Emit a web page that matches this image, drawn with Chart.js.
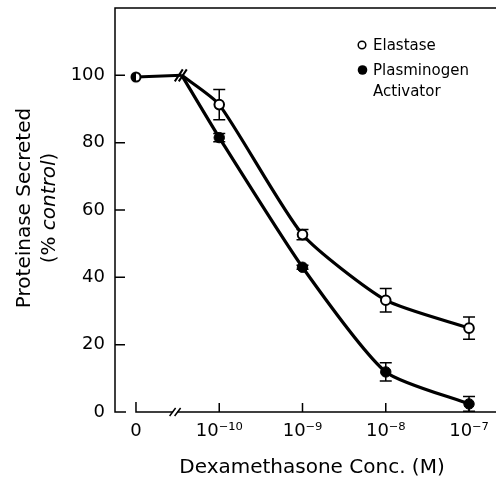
<!DOCTYPE html>
<html>
<head>
<meta charset="utf-8">
<script src="https://cdn.jsdelivr.net/npm/chart.js@4.4.0/dist/chart.umd.min.js"></script>
<style>
html, body { margin: 0; padding: 0; background: #fff; }
#wrap { width: 496px; height: 481px; }
</style>
</head>
<body>
<div id="wrap"><canvas id="chart"></canvas></div>
<script>
// Dose positions along the axis: 0 = no drug, 1..4 = 10^-10 .. 10^-7 M
const doses = [0, 1, 2, 3, 4];
const doseLabels = ['0', '10⁻¹⁰', '10⁻⁹', '10⁻⁸', '10⁻⁷'];
const yTicks = [0, 20, 40, 60, 80, 100];

const controlValue = 100;
const curveBreak = 0.55;   // curves restart after the axis break
const axisBreak = 0.47;

const elastase = [99.5, 91.3, 52.7, 33.2, 24.9];
const elastaseErr = [0, 4.5, 1.5, 3.5, 3.3];
const plasminogen = [99.5, 81.5, 43, 11.9, 2.4];
const plasminogenErr = [0, 1.2, 0.6, 2.7, 2.2];

const FONT = "'DejaVu Sans', sans-serif";

// half filled marker for the control point (both series overlap there)
function halfMarker() {
    const c = document.createElement('canvas');
    c.width = 14; c.height = 14;
    const g = c.getContext('2d');
    g.beginPath(); g.arc(7, 7, 4.5, 0, Math.PI * 2);
    g.fillStyle = '#fff'; g.fill();
    g.beginPath(); g.arc(7, 7, 4.5, Math.PI / 2, Math.PI * 1.5);
    g.fillStyle = '#000'; g.fill();
    g.beginPath(); g.arc(7, 7, 4.5, 0, Math.PI * 2);
    g.lineWidth = 2; g.strokeStyle = '#000'; g.stroke();
    return c;
}

function curvePoints(values) {
    return [{ x: curveBreak, y: controlValue }]
        .concat(doses.slice(1).map((d, i) => ({ x: d, y: values[i + 1] })));
}

// axes frame, inward ticks and break marks
const framePlugin = {
    id: 'frame',
    beforeDatasetsDraw(chart) {
        const { ctx, chartArea: a, scales: { x, y } } = chart;
        ctx.save();
        ctx.strokeStyle = '#000';
        ctx.lineWidth = 1.5;
        ctx.beginPath();
        ctx.moveTo(a.right, a.top);
        ctx.lineTo(a.left, a.top);
        ctx.lineTo(a.left, a.bottom);
        ctx.lineTo(a.left + 11, a.bottom);
        const x0 = x.getPixelForValue(doses[0]);
        ctx.moveTo(x0, a.bottom - 10);
        ctx.lineTo(x0, a.bottom);
        ctx.lineTo(a.right, a.bottom);
        doses.slice(1).forEach(d => {
            const px = x.getPixelForValue(d);
            ctx.moveTo(px, a.bottom);
            ctx.lineTo(px, a.bottom - 9);
        });
        yTicks.slice(1).forEach(v => {
            const py = y.getPixelForValue(v);
            ctx.moveTo(a.left, py);
            ctx.lineTo(a.left + 10, py);
        });
        ctx.stroke();

        // axis break
        const bx = x.getPixelForValue(axisBreak);
        ctx.fillStyle = '#fff';
        ctx.fillRect(bx - 2, a.bottom - 2, 4, 4);
        ctx.beginPath();
        [-2.5, 2.5].forEach(o => {
            ctx.moveTo(bx + o - 3, a.bottom + 4);
            ctx.lineTo(bx + o + 3, a.bottom - 4);
        });
        ctx.stroke();

        // error bars (behind the markers)
        ctx.lineWidth = 1.5;
        const bars = (vals, errs) => {
            doses.forEach((d, i) => {
                if (!errs[i]) return;
                const px = x.getPixelForValue(d);
                const hi = y.getPixelForValue(vals[i] + errs[i]);
                const lo = y.getPixelForValue(Math.max(0, vals[i] - errs[i]));
                ctx.beginPath();
                ctx.moveTo(px, hi); ctx.lineTo(px, lo);
                ctx.moveTo(px - 6, hi); ctx.lineTo(px + 6, hi);
                ctx.moveTo(px - 6, lo); ctx.lineTo(px + 6, lo);
                ctx.stroke();
            });
        };
        bars(elastase, elastaseErr);
        bars(plasminogen, plasminogenErr);
        ctx.restore();
    },
    afterDatasetsDraw(chart) {
        const { ctx, scales: { x, y } } = chart;
        const bx = x.getPixelForValue(curveBreak);
        const by = y.getPixelForValue(controlValue);
        ctx.save();
        ctx.strokeStyle = '#000';
        ctx.lineWidth = 2;
        ctx.beginPath();
        [-3, 1].forEach(o => {
            ctx.moveTo(bx + o - 4, by + 6);
            ctx.lineTo(bx + o + 4, by - 6);
        });
        ctx.stroke();
        ctx.restore();
    },
    afterDraw(chart) {
        const { ctx } = chart;
        ctx.save();
        ctx.fillStyle = '#000';
        ctx.textBaseline = 'middle';

        // x title
        ctx.font = `20px ${FONT}`;
        ctx.textAlign = 'center';
        ctx.fillText('Dexamethasone Conc. (M)', 312, 468);

        // y title, two lines, "control" in italic
        ctx.translate(25, 208);
        ctx.rotate(-Math.PI / 2);
        ctx.fillText('Proteinase Secreted', 0, 0);
        const parts = [['(% ', 'normal'], ['control', 'italic'], [')', 'normal']];
        let total = 0;
        parts.forEach(p => { ctx.font = `${p[1]} 20px ${FONT}`; total += ctx.measureText(p[0]).width; });
        let cx = -total / 2;
        ctx.textAlign = 'left';
        parts.forEach(p => {
            ctx.font = `${p[1]} 20px ${FONT}`;
            ctx.fillText(p[0], cx, 25);
            cx += ctx.measureText(p[0]).width;
        });
        ctx.restore();

        // legend
        ctx.save();
        ctx.font = `15px ${FONT}`;
        ctx.textBaseline = 'middle';
        ctx.textAlign = 'left';
        ctx.lineWidth = 1.5;
        ctx.beginPath(); ctx.arc(362, 45, 3.8, 0, Math.PI * 2);
        ctx.fillStyle = '#fff'; ctx.fill(); ctx.strokeStyle = '#000'; ctx.stroke();
        ctx.beginPath(); ctx.arc(362.5, 70, 4.8, 0, Math.PI * 2);
        ctx.fillStyle = '#000'; ctx.fill();
        ctx.fillText('Elastase', 373, 46);
        ctx.fillText('Plasminogen', 373, 71);
        ctx.fillText('Activator', 373, 92);
        ctx.restore();
    }
};

new Chart(document.getElementById('chart'), {
    type: 'line',
    data: {
        datasets: [
            {
                label: 'Control',
                data: [{ x: doses[0], y: elastase[0] }, { x: curveBreak, y: controlValue }],
                borderColor: '#000',
                borderWidth: 3,
                tension: 0,
                pointStyle: [halfMarker(), false],
                pointRadius: [5, 0]
            },
            {
                label: 'Elastase',
                data: curvePoints(elastase),
                borderColor: '#000',
                borderWidth: 3.2,
                tension: 0.2,
                pointRadius: [0, 4.8, 4.8, 4.8, 4.8],
                pointBackgroundColor: '#fff',
                pointBorderColor: '#000',
                pointBorderWidth: 2
            },
            {
                label: 'Plasminogen Activator',
                data: curvePoints(plasminogen),
                borderColor: '#000',
                borderWidth: 3.2,
                tension: 0.2,
                pointRadius: [0, 5.2, 5.2, 5.2, 5.2],
                pointBackgroundColor: '#000',
                pointBorderColor: '#000',
                pointBorderWidth: 1
            }
        ]
    },
    options: {
        responsive: true,
        maintainAspectRatio: false,
        animation: false,
        layout: { autoPadding: false, padding: { top: 8, right: 0, left: 0, bottom: 0 } },
        plugins: {
            legend: { display: false },
            tooltip: { enabled: false }
        },
        scales: {
            x: {
                type: 'linear',
                min: -0.252,
                max: 4.324,
                afterBuildTicks: s => { s.ticks = doses.map(v => ({ value: v })); },
                afterFit: s => {
                    s.height = 69;
                    s.paddingLeft = 0; s.paddingRight = 0;
                },
                grid: { display: false, drawTicks: false },
                border: { display: false },
                ticks: {
                    padding: 9,
                    color: '#000',
                    font: { size: 18, family: FONT },
                    callback: v => doseLabels[doses.indexOf(v)]
                }
            },
            y: {
                min: 0,
                max: 120,
                afterBuildTicks: s => { s.ticks = yTicks.map(v => ({ value: v })); },
                afterFit: s => {
                    s.width = 115;
                    s.paddingTop = 0; s.paddingBottom = 0;
                },
                grid: { display: false, drawTicks: false },
                border: { display: false },
                ticks: {
                    padding: 10,
                    color: '#000',
                    font: { size: 18, family: FONT }
                }
            }
        }
    },
    plugins: [framePlugin]
});
</script>
</body>
</html>
